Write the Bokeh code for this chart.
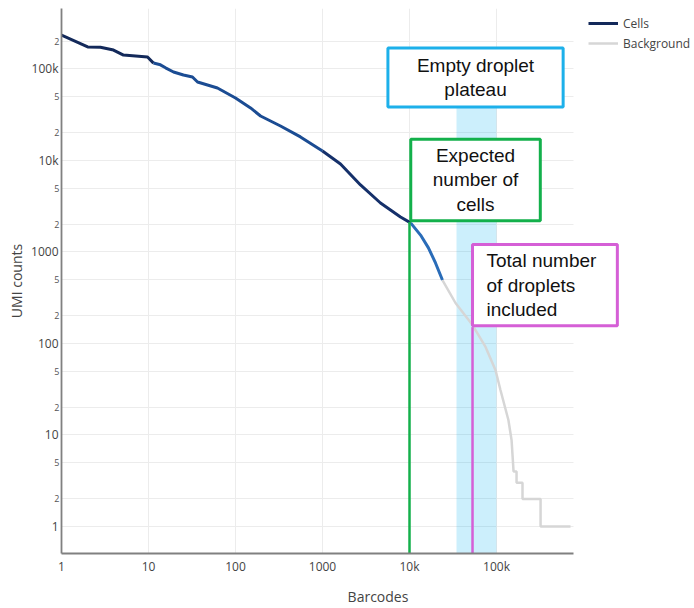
from bokeh.plotting import figure
from bokeh.models import Range1d, FixedTicker, Label, Legend, LegendItem, BoxAnnotation, LogAxis
from bokeh.embed import file_html
from bokeh.resources import INLINE

# ---- data ----
cells_barcodes = [1, 2, 2.8, 3.96, 5.16, 9.75, 11.4, 13.7, 15.7, 19.4, 25.2, 32, 36.6, 62, 100,
                  149, 194, 329, 558, 1000, 1610, 2734, 4640, 7880, 10300, 13400, 16500, 19900, 23900]
cells_umis = [235000, 174000, 173000, 161000, 142000, 135000, 116000, 111000, 103000, 92700, 86000,
              81800, 72100, 62000, 48200, 37500, 30600, 23800, 18100, 12700, 9160, 5400, 3430, 2410,
              2080, 1530, 1110, 759, 494]
bg_barcodes = [23900, 33800, 53000, 74800, 97500, 111000, 137000, 149000, 157000, 170000, 170000,
               199000, 199000, 321000, 321000, 709000]
bg_umis = [494, 277, 159, 91.6, 51, 31, 14.6, 8.8, 4, 4, 3, 3, 2, 2, 1, 1]

x_ticks = [1, 10, 100, 1000, 10000, 100000]
x_tick_labels = ["1", "10", "100", "1000", "10k", "100k"]
y_ticks = [1, 10, 100, 1000, 10000, 100000]
y_tick_labels = ["1", "10", "100", "1000", "10k", "100k"]
y_minor_ticks = [2, 5, 20, 50, 200, 500, 2000, 5000, 20000, 50000, 200000]
y_minor_labels = ["2", "5", "2", "5", "2", "5", "2", "5", "2", "5", "2"]

x_axis_max = 767000
expected_cells = 10000
total_droplets = 53000
plateau = [34700, 100000]

# segment styling of the cells curve (index breakpoints, colours)
cells_breaks = [0, 6, 19, 24, 28]
cells_colors = ["#13295a", "#1b4c93", "#15306a", "#2a6cb8"]

FONT = "Open Sans"
BOXFONT = "Liberation Sans"

p = figure(width=694, height=608, x_axis_type="log", y_axis_type="log",
           x_range=Range1d(1, 1.887e7), y_range=Range1d(0.507, 458000),
           output_backend="svg", toolbar_location=None,
           min_border_left=61, min_border_right=0, min_border_top=8, min_border_bottom=55)
p.outline_line_color = None

# axes
for ax, ticks, labels in ((p.xaxis[0], x_ticks, x_tick_labels), (p.yaxis[0], y_ticks, y_tick_labels)):
    ax.ticker = FixedTicker(ticks=ticks)
    ax.major_label_overrides = {t: l for t, l in zip(ticks, labels)}
    ax.major_tick_line_color = None
    ax.minor_tick_line_color = None
    ax.major_tick_out = 0
    ax.major_tick_in = 0
    ax.minor_tick_out = 0
    ax.axis_line_color = "#808080"
    ax.axis_line_width = 1.8
    ax.major_label_text_font = FONT
    ax.major_label_text_font_size = "12px"
    ax.major_label_text_color = "#444444"
    ax.axis_label_text_font = FONT
    ax.axis_label_text_font_size = "14px"
    ax.axis_label_text_color = "#444444"
    ax.axis_label_text_font_style = "normal"
    ax.major_label_standoff = 4
p.xaxis.axis_label = "Barcodes"
p.yaxis.axis_label = "UMI counts"
p.xaxis.axis_label_standoff = 9
p.xaxis.bounds = (1, x_axis_max)

main_y = p.yaxis[0]
main_y.major_label_standoff = -7
main_y.axis_label_standoff = 2
main_y.axis_line_color = None

# small "2" / "5" labels, in a thin axis right next to the frame (carries the axis line)
minor_axis = LogAxis(ticker=FixedTicker(ticks=y_minor_ticks),
                     major_label_overrides={t: l for t, l in zip(y_minor_ticks, y_minor_labels)},
                     axis_line_color="#808080", axis_line_width=1.8,
                     major_tick_line_color=None, minor_tick_line_color=None,
                     major_tick_out=0, major_tick_in=0, minor_tick_out=0,
                     major_label_standoff=2, major_label_text_font=FONT,
                     major_label_text_font_size="9px", major_label_text_color="#555555")
p.left = [minor_axis, main_y]

p.xgrid.ticker = FixedTicker(ticks=x_ticks)
p.ygrid.ticker = FixedTicker(ticks=sorted(y_ticks + y_minor_ticks))
p.xgrid.grid_line_color = "#ececec"
p.ygrid.grid_line_color = "#ececec"

# hide grid beyond the end of the x axis
p.add_layout(BoxAnnotation(left=x_axis_max, fill_color="white", fill_alpha=1,
                           line_color=None, level="underlay"))

# empty droplet plateau band
p.add_layout(BoxAnnotation(left=plateau[0], right=plateau[1], top=37500,
                           fill_color="#00aeef", fill_alpha=0.2, line_color=None, level="underlay"))

# curves
bg_r = p.line(bg_barcodes, bg_umis, line_color="#d6d6d6", line_width=2.5)
cell_rs = []
for i, c in enumerate(cells_colors):
    a, b = cells_breaks[i], cells_breaks[i + 1] + 1
    cell_rs.append(p.line(cells_barcodes[a:b], cells_umis[a:b], line_color=c, line_width=3,
                          line_join="round"))

# vertical markers
ymin = p.y_range.start
p.segment(x0=[expected_cells], y0=[ymin], x1=[expected_cells], y1=[2128],
          line_color="#13b04b", line_width=2.5)
p.segment(x0=[total_droplets], y0=[ymin], x1=[total_droplets], y1=[151],
          line_color="#d55fd6", line_width=2.5)

# annotation boxes
def box(x, y, text, color, padl, padr, pady, align="center"):
    return Label(x=x, y=y, text=text, text_align=align, text_baseline="middle",
                 text_font=BOXFONT, text_font_size="19px", text_line_height=1.15,
                 text_color="#111111", background_fill_color="white",
                 border_line_color=color, border_line_width=3,
                 padding=dict(left=padl, right=padr, top=pady, bottom=pady))

p.add_layout(box(57400, 80700, "Empty droplet\nplateau", "#1db0ea", 29, 29, 7))
p.add_layout(box(57400, 6120, "Expected\nnumber of\ncells", "#13b04b", 22, 22, 6))
p.add_layout(box(total_droplets, 435, "Total number\nof droplets\nincluded", "#d55fd6",
                 14, 21, 6, align="left"))

legend = Legend(items=[LegendItem(label="Cells", renderers=[cell_rs[0]]),
                       LegendItem(label="Background", renderers=[bg_r])],
                location=(527, 500), orientation="vertical", glyph_width=30, glyph_height=20,
                label_height=20, spacing=0, padding=0, margin=0, label_standoff=5,
                border_line_color=None, background_fill_alpha=0,
                label_text_font=FONT, label_text_font_size="12px", label_text_color="#444444")
p.add_layout(legend)

open("out.html", "w").write(file_html(p, INLINE))
